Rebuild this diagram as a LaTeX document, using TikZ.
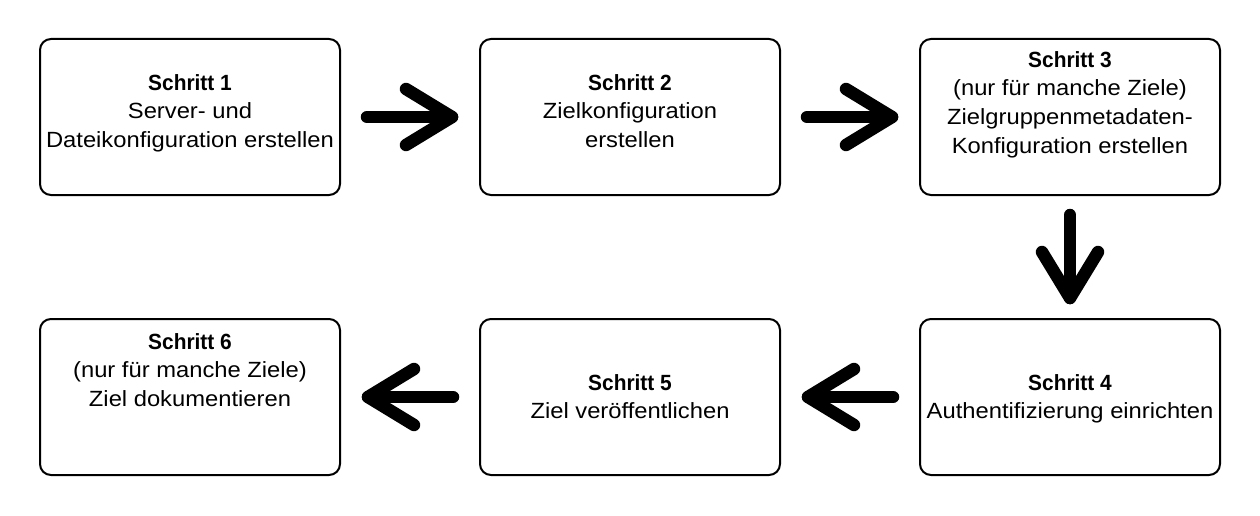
\documentclass[tikz,border=0pt]{standalone}
\usepackage{fontspec}
\setmainfont{Liberation Sans}[FakeStretch=1.08]
\newfontfamily\stepboldfont{Liberation Sans}[FakeStretch=0.95]
\newcommand{\stephead}[1]{{\stepboldfont\bfseries #1}}
\usetikzlibrary{calc}
\begin{document}
\begin{tikzpicture}[x=1pt,y=1pt,
  stepbox/.style={draw=black, line width=2pt, rounded corners=11pt, minimum width=300pt, minimum height=156pt, inner sep=0pt, fill=white},
  steptext/.style={anchor=north, align=center, inner sep=0pt, font=\fontsize{22}{28.75}\selectfont},
  bigarrow/.style={line width=12.5pt, line cap=round, line join=round}
]
\useasboundingbox (0,0) rectangle (1260,-516);
% boxes
\node[stepbox] (b1) at (190,-117) {};
\node[stepbox] (b2) at (630,-117) {};
\node[stepbox] (b3) at (1070,-117) {};
\node[stepbox] (b4) at (1070,-397) {};
\node[stepbox] (b5) at (630,-397) {};
\node[stepbox] (b6) at (190,-397) {};
% texts
\node[steptext] (t1) at (190,-74) {\stephead{Schritt 1}\\Server- und\\Dateikonfiguration erstellen};
\node[steptext] (t2) at (630,-74) {\stephead{Schritt 2}\\Zielkonfiguration\\erstellen};
\node[steptext] (t3) at (1070,-51) {\stephead{Schritt 3}\\(nur für manche Ziele)\\Zielgruppenmetadaten-\\Konfiguration erstellen};
\node[steptext] (t4) at (1070,-374) {\stephead{Schritt 4}\\Authentifizierung einrichten};
\node[steptext] (t5) at (630,-374) {\stephead{Schritt 5}\\Ziel veröffentlichen};
\node[steptext] (t6) at (190,-333) {\stephead{Schritt 6}\\(nur für manche Ziele)\\Ziel dokumentieren};
% arrow coordinates
\coordinate (a1s) at ($(b1.east)+(26,0)$);
\coordinate (a1e) at ($(b2.west)+(-27,0)$);
\coordinate (a2s) at ($(b2.east)+(26,0)$);
\coordinate (a2e) at ($(b3.west)+(-27,0)$);
\coordinate (a3s) at ($(b3.south)+(0,-19)$);
\coordinate (a3e) at ($(b4.north)+(0,20)$);
\coordinate (a4s) at ($(b4.west)+(-26,0)$);
\coordinate (a4e) at ($(b5.east)+(27,0)$);
\coordinate (a5s) at ($(b5.west)+(-26,0)$);
\coordinate (a5e) at ($(b6.east)+(27,0)$);
% arrows
\draw[bigarrow] (a1s) -- (a1e);
\draw[bigarrow] ($(a1e)+(-46,28)$) -- (a1e) -- ($(a1e)+(-46,-28)$);
\draw[bigarrow] (a2s) -- (a2e);
\draw[bigarrow] ($(a2e)+(-46,28)$) -- (a2e) -- ($(a2e)+(-46,-28)$);
\draw[bigarrow] (a3s) -- (a3e);
\draw[bigarrow] ($(a3e)+(-28,46)$) -- (a3e) -- ($(a3e)+(28,46)$);
\draw[bigarrow] (a4s) -- (a4e);
\draw[bigarrow] ($(a4e)+(46,28)$) -- (a4e) -- ($(a4e)+(46,-28)$);
\draw[bigarrow] (a5s) -- (a5e);
\draw[bigarrow] ($(a5e)+(46,28)$) -- (a5e) -- ($(a5e)+(46,-28)$);
\end{tikzpicture}
\end{document}
